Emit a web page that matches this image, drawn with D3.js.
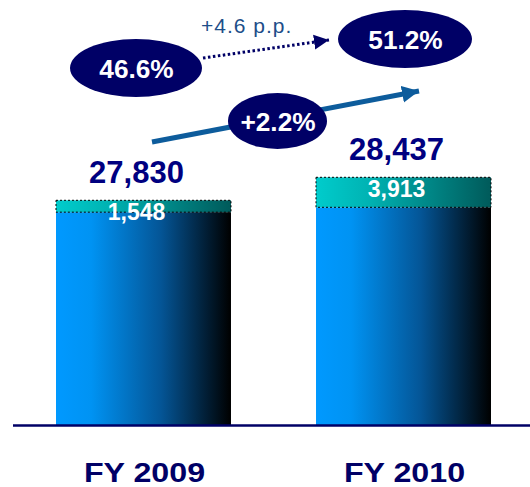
<!DOCTYPE html>
<html lang="en">
<head>
    <meta charset="UTF-8">
    <title>FY 2009 / FY 2010</title>
    <script src="https://d3js.org/d3.v7.min.js"></script>
    <style>
        html, body {
            margin: 0;
            padding: 0;
            background: #fff;
        }
        text {
            font-family: "Liberation Sans", Arial, sans-serif;
        }
        .total {
            font-size: 31px;
            font-weight: bold;
            fill: #000080;
            text-anchor: middle;
        }
        .part {
            font-size: 23px;
            font-weight: bold;
            fill: #fff;
            text-anchor: middle;
        }
        .cat {
            font-size: 28px;
            font-weight: bold;
            fill: #000066;
            text-anchor: middle;
        }
        .bubble {
            font-size: 25px;
            font-weight: bold;
            fill: #fff;
            text-anchor: middle;
        }
        .pp {
            font-size: 21px;
            fill: #1d4e89;
            letter-spacing: 1px;
        }
    </style>
</head>
<body>
<div id="chart"></div>
<script>
    const width = 530;
    const height = 487;

    // data
    const categories = ["FY 2009", "FY 2010"];
    const totals = [27830, 28437];
    const topPart = [1548, 3913];
    const shares = ["46.6%", "51.2%"];
    const shareChange = "+4.6 p.p.";
    const totalChange = "+2.2%";

    const baseY = 425;

    const x = d3.scaleBand()
        .domain(categories)
        .range([56, 491])
        .paddingInner(0.327);

    // axis is cut: totals are shown on a truncated scale
    const y = d3.scaleLinear()
        .domain([21900, 28437])
        .range([baseY, 177.3]);

    // top part height scale
    const seg = d3.scaleLinear()
        .domain([0, 3913])
        .range([0, 30]);

    const fmt = d3.format(",");

    const svg = d3.select("#chart").append("svg")
        .attr("width", width)
        .attr("height", height);

    const defs = svg.append("defs");

    function grad(id, stops) {
        const g = defs.append("linearGradient").attr("id", id)
            .attr("x1", "0%").attr("x2", "100%").attr("y1", "0%").attr("y2", "0%");
        stops.forEach(s => g.append("stop").attr("offset", s[0]).attr("stop-color", s[1]));
    }
    grad("blueGrad", [["0%", "#0099ff"], ["20%", "#0093f3"], ["60%", "#045596"], ["100%", "#000000"]]);
    grad("tealGrad", [["0%", "#00cccc"], ["30%", "#00b3b3"], ["100%", "#005a5a"]]);

    function marker(id, color, w, h) {
        defs.append("marker").attr("id", id)
            .attr("viewBox", "0 0 10 10")
            .attr("refX", 10).attr("refY", 5)
            .attr("markerUnits", "userSpaceOnUse")
            .attr("markerWidth", w).attr("markerHeight", h)
            .attr("orient", "auto")
            .append("path").attr("d", "M0,0L10,5L0,10Z").attr("fill", color);
    }
    marker("headBlue", "#0d5c9c", 17, 18);
    marker("headNavy", "#000066", 15, 16);

    const bars = svg.append("g").attr("class", "bars")
        .selectAll("g")
        .data(categories)
        .join("g");

    // lower (blue) part
    bars.append("rect")
        .attr("x", d => x(d))
        .attr("width", x.bandwidth())
        .attr("y", (d, i) => y(totals[i]) + seg(topPart[i]))
        .attr("height", (d, i) => baseY - y(totals[i]) - seg(topPart[i]))
        .attr("fill", "url(#blueGrad)");

    // upper (teal) part
    bars.append("rect")
        .attr("x", d => x(d))
        .attr("width", x.bandwidth())
        .attr("y", (d, i) => y(totals[i]))
        .attr("height", (d, i) => seg(topPart[i]))
        .attr("fill", "url(#tealGrad)")
        .attr("stroke", "#000")
        .attr("stroke-width", 1)
        .attr("stroke-dasharray", "2,2");

    bars.append("text")
        .attr("class", "part")
        .attr("x", d => x(d) + x.bandwidth() / 2 - 7)
        .attr("y", (d, i) => y(totals[i]) + 20)
        .text((d, i) => fmt(topPart[i]));

    bars.append("text")
        .attr("class", "total")
        .attr("x", d => x(d) + x.bandwidth() / 2 - 7)
        .attr("y", (d, i) => y(totals[i]) - 17)
        .text((d, i) => fmt(totals[i]));

    bars.append("text")
        .attr("class", "cat")
        .attr("transform", d => `translate(${x(d) + x.bandwidth() / 2 + 1},482) scale(1.15,1)`)
        .text(d => d);

    // base line
    svg.append("line")
        .attr("x1", 13).attr("x2", width)
        .attr("y1", baseY + 0.5).attr("y2", baseY + 0.5)
        .attr("stroke", "#000066")
        .attr("stroke-width", 2.5);

    // growth arrow
    svg.append("line")
        .attr("x1", 152).attr("y1", 142)
        .attr("x2", 419).attr("y2", 91)
        .attr("stroke", "#0d5c9c")
        .attr("stroke-width", 5)
        .attr("marker-end", "url(#headBlue)");

    // share change dotted arrow
    svg.append("line")
        .attr("x1", 203).attr("y1", 58)
        .attr("x2", 329).attr("y2", 40)
        .attr("stroke", "#000066")
        .attr("stroke-width", 3)
        .attr("stroke-dasharray", "2.5,2.5")
        .attr("marker-end", "url(#headNavy)");

    svg.append("text")
        .attr("class", "pp")
        .attr("x", 201).attr("y", 33)
        .text(shareChange);

    // bubbles
    const bubbles = [
        {label: shares[0], cx: 136, cy: 68, rx: 66, ry: 29},
        {label: shares[1], cx: 405, cy: 39, rx: 67, ry: 29},
        {label: totalChange, cx: 277.5, cy: 121, rx: 49.5, ry: 28}
    ];

    const b = svg.append("g").selectAll("g")
        .data(bubbles)
        .join("g");

    b.append("ellipse")
        .attr("cx", d => d.cx).attr("cy", d => d.cy)
        .attr("rx", d => d.rx).attr("ry", d => d.ry)
        .attr("fill", "#000066");

    b.append("text")
        .attr("class", "bubble")
        .attr("transform", d => `translate(${d.cx + 0.5},${d.cy + 9.5}) scale(1.05,1)`)
        .text(d => d.label);
</script>
</body>
</html>
